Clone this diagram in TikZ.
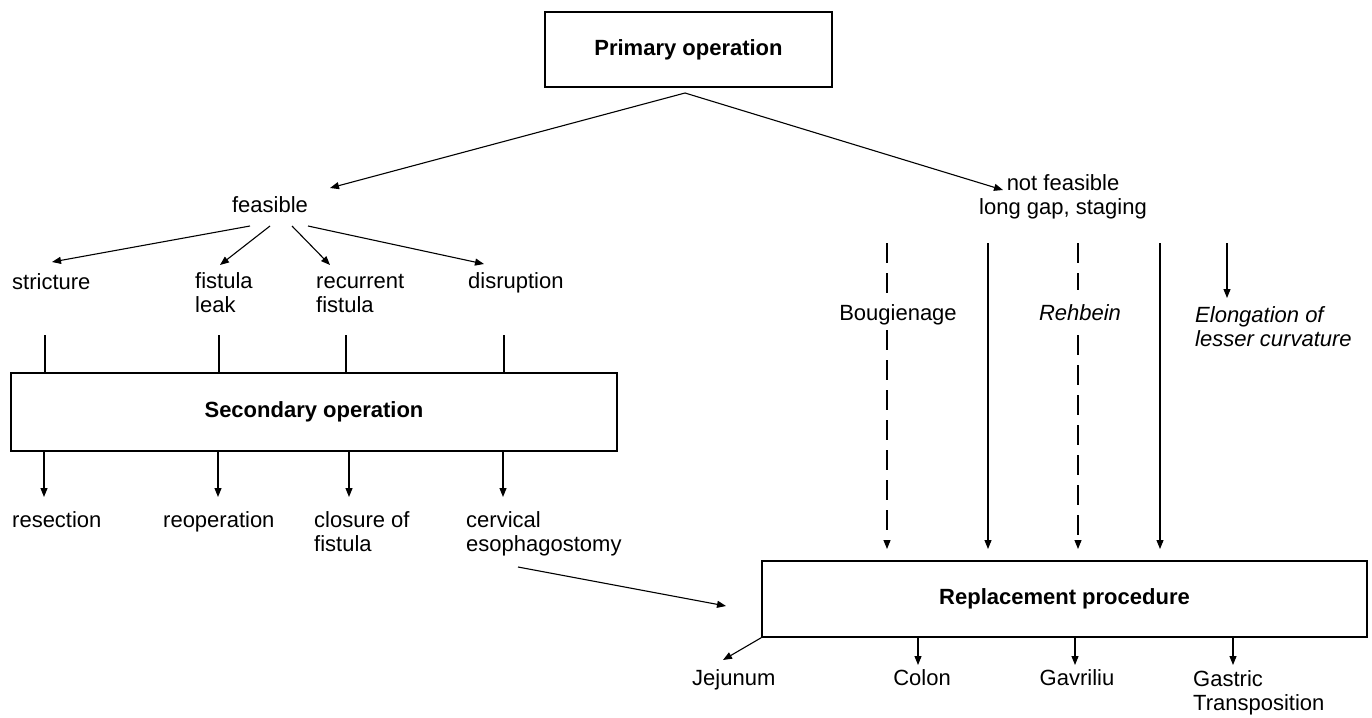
\documentclass[tikz,border=0pt]{standalone}
\usepackage{fontspec}
\setmainfont{Liberation Sans}
\usetikzlibrary{arrows.meta}
\begin{document}
\begin{tikzpicture}[x=1pt,y=-1pt,
  every node/.style={font=\fontsize{22}{24}\selectfont, inner sep=0pt},
  lab/.style={anchor=base west, align=left},
  itl/.style={font=\fontsize{22}{24}\selectfont\itshape},
  box/.style={draw, line width=1.2pt, font=\fontsize{22}{24}\selectfont\bfseries},
  conn/.style={line width=1.1pt},
  arr/.style={conn, -{Triangle[length=9pt,width=7pt]}},
  dsh/.style={dash pattern=on 20pt off 10pt}]
\useasboundingbox (0,0) rectangle (1372,717);
% boxes
\node[box, minimum width=287pt, minimum height=75pt] (prim) at (688.5,49.5) {Primary operation};
\node[box, minimum width=606pt, minimum height=78pt] (sec) at (314,412) {Secondary operation};
\node[box, minimum width=605pt, minimum height=76pt] (repl) at (1064.5,599) {Replacement procedure};
% labels (base anchor of a two-line node = baseline of its last line)
\node[anchor=base] (feas) at (270,212) {feasible};
\node[anchor=base, align=center] (nfeas) at (1063,214) {not feasible\\long gap, staging};
\node[lab] (strict) at (12,289) {stricture};
\node[lab] (fist) at (195,312) {fistula\\leak};
\node[lab] (recur) at (316,312) {recurrent\\fistula};
\node[lab] (disr) at (468,288) {disruption};
\node[lab] (resec) at (12,527) {resection};
\node[lab] (reop) at (163,527) {reoperation};
\node[lab] (clos) at (314,551) {closure of\\fistula};
\node[lab] (cerv) at (466,551) {cervical\\esophagostomy};
\node[anchor=base] (boug) at (898,320) {Bougienage};
\node[anchor=base, itl] (rehb) at (1080,320) {Rehbein};
\node[lab, itl] (elong) at (1195,346) {Elongation of\\lesser curvature};
\node[lab] (jej) at (692,685) {Jejunum};
\node[anchor=base] (colon) at (922,685) {Colon};
\node[anchor=base] (gavr) at (1077,685) {Gavriliu};
\node[lab] (gast) at (1193,710) {Gastric\\Transposition};
% coordinates
\coordinate (apex) at (685,93);
\coordinate (feasT) at (330,188);
\coordinate (nfeasT) at (1003,190);
\coordinate (f1) at (250,226); \coordinate (t1) at (52,262);
\coordinate (f2) at (270,226); \coordinate (t2) at (220,265);
\coordinate (f3) at (292,226); \coordinate (t3) at (330,265);
\coordinate (f4) at (308,226); \coordinate (t4) at (484,264);
\coordinate (s1) at (45,335); \coordinate (s2) at (219,335);
\coordinate (s3) at (346,335); \coordinate (s4) at (504,335);
\coordinate (b1) at (44,497); \coordinate (b2) at (218,497);
\coordinate (b3) at (349,497); \coordinate (b4) at (503,497);
\coordinate (cs) at (518,567); \coordinate (ce) at (726,606);
\coordinate (r1t) at (887,243); \coordinate (r1m) at (887,297);
\coordinate (r1b) at (887,330); \coordinate (r1e) at (887,549);
\coordinate (r2t) at (988,243); \coordinate (r2e) at (988,549);
\coordinate (r3t) at (1078,243); \coordinate (r3m) at (1078,290);
\coordinate (r3b) at (1078,335); \coordinate (r3e) at (1078,549);
\coordinate (r4t) at (1160,243); \coordinate (r4e) at (1160,549);
\coordinate (r5t) at (1227,243); \coordinate (r5e) at (1227,298);
\coordinate (jt) at (723,660);
\coordinate (c1) at (918,665); \coordinate (c2) at (1075,665); \coordinate (c3) at (1233,665);
% connectors
\draw[arr] (apex) -- (feasT);
\draw[arr] (apex) -- (nfeasT);
\draw[arr] (f1) -- (t1);
\draw[arr] (f2) -- (t2);
\draw[arr] (f3) -- (t3);
\draw[arr] (f4) -- (t4);
\foreach \c in {s1,s2,s3,s4} \draw[conn] (\c) -- (\c |- sec.north);
\foreach \c in {b1,b2,b3,b4} \draw[arr] (\c |- sec.south) -- (\c);
\draw[arr] (cs) -- (ce);
\draw[conn,dsh] (r1t) -- (r1m);
\draw[arr,dsh] (r1b) -- (r1e);
\draw[arr] (r2t) -- (r2e);
\draw[conn,dsh] (r3t) -- (r3m);
\draw[arr,dsh] (r3b) -- (r3e);
\draw[arr] (r4t) -- (r4e);
\draw[arr] (r5t) -- (r5e);
\draw[arr] (repl.south west) -- (jt);
\foreach \c in {c1,c2,c3} \draw[arr] (\c |- repl.south) -- (\c);
\end{tikzpicture}
\end{document}
